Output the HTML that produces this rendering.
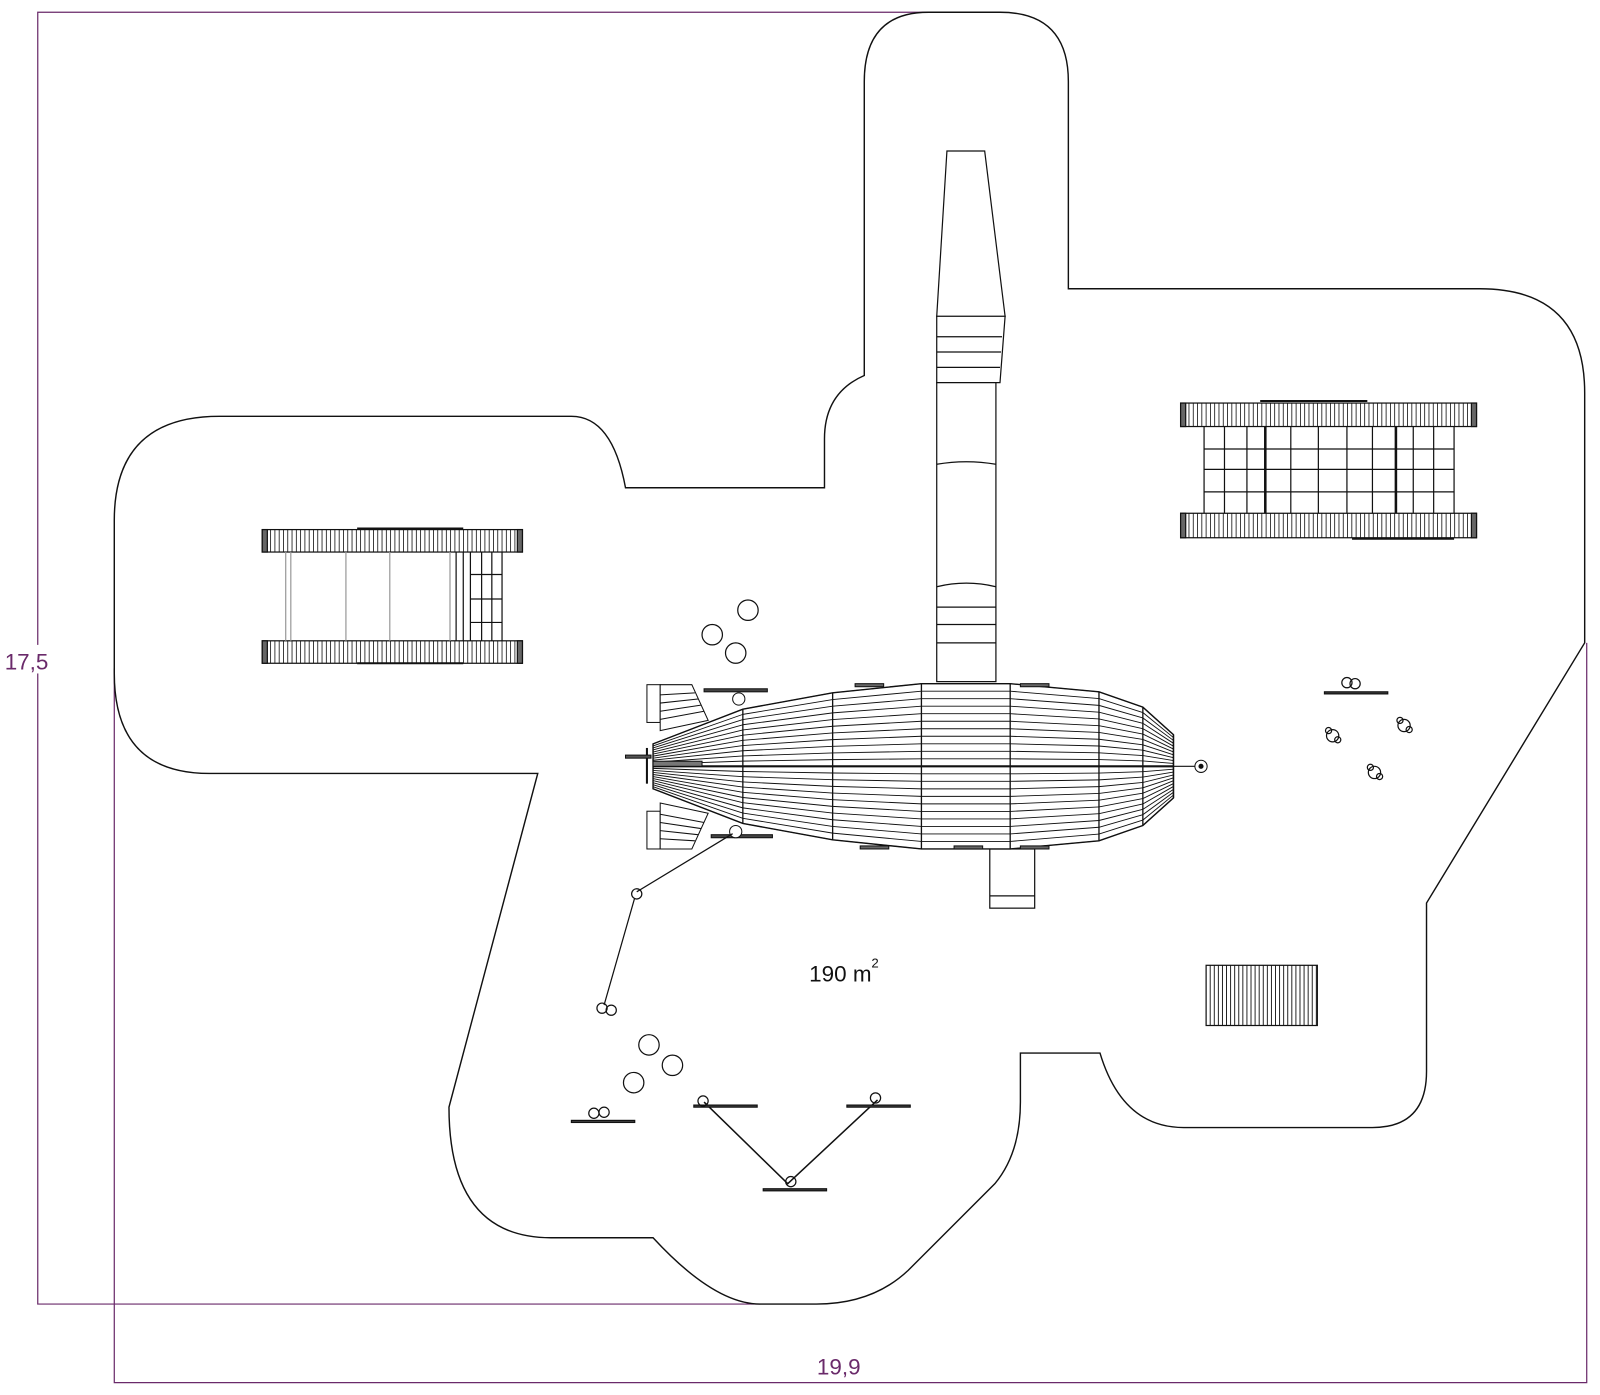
<!DOCTYPE html>
<html><head><meta charset="utf-8"><style>
html,body{margin:0;padding:0;background:#fff;width:1600px;height:1395px;overflow:hidden}
svg{display:block}
text{font-family:"Liberation Sans",sans-serif}
</style></head><body>
<svg id="s" width="1600" height="1395" viewBox="0 0 1600 1395" xmlns="http://www.w3.org/2000/svg">
<g transform="scale(1.0204)">
<g fill="none" stroke="#6a2a6a" stroke-width="1.2">
<path d="M910 12 H37 V1278 H745"/>
<path d="M112 655 V1355 H1555 V630"/>
</g>
<rect x="4" y="632" width="44" height="28" fill="#fff"/>
<text x="26" y="656" font-size="22" fill="#6a2a6a" text-anchor="middle">17,5</text>
<rect x="800" y="1326" width="44" height="28" fill="#fff"/>
<text x="822" y="1347" font-size="22" fill="#6a2a6a" text-anchor="middle">19,9</text>

<path fill="none" stroke="#111" stroke-width="1.4" d="
M910 12 H980 Q1047 12 1047 80 V283 H1450 Q1553 283 1553 385 V630 L1398 885 V1050 Q1398 1105 1345 1105 H1160 Q1100 1105 1078 1032 H1000 V1080 Q1000 1130 975 1160 L890 1245 Q855 1278 800 1278 H745 Q700 1278 640 1213 H540 Q440 1213 440 1085 L527 758 H205 Q112 758 112 660 V510 Q112 408 215 408 H560 Q600 408 613 478 H808 V430 Q808 385 847 368 V80 Q847 12 910 12 Z"/>

<g fill="#fff" stroke="#111" stroke-width="1.2">
<path d="M928 148 H965 L985 310 H918 Z"/>
<path d="M918 310 H985 L980 375 H918 Z"/>
<path d="M918 330 H982 M918 345 H981 M918 360 H980"/>
<rect x="918" y="375" width="58" height="293"/>
<path d="M918 455 Q947 450 976 455 M918 575 Q947 568 976 575 M918 595 H976 M918 612 H976 M918 630 H976"/>
<rect x="970" y="832" width="44" height="58"/>
<path d="M970 878 H1014"/>
</g>

<g id="zep" stroke="#111" stroke-width="1" fill="#fff"></g>

<text x="793" y="962" font-size="22" fill="#111">190 m</text>
<text x="854" y="948" font-size="13" fill="#111">2</text>

<g id="extra" stroke="#111" fill="none" stroke-width="1.2"></g>
</g>
</svg>
<script>
(function(){
const NS="http://www.w3.org/2000/svg";
function el(p,t,a){const e=document.createElementNS(NS,t);for(const k in a)e.setAttribute(k,a[k]);p.appendChild(e);return e;}
const z=document.getElementById('zep'), g2=document.getElementById('extra');
const cy=751;
el(z,'rect',{x:634,y:671,width:13,height:37});el(z,'rect',{x:634,y:795,width:13,height:37});
el(z,'path',{d:"M647 671 H678 L694 706 L647 716 Z"});
el(z,'path',{d:"M647 832 H678 L694 797 L647 787 Z"});
for(let i=1;i<5;i++){el(z,'line',{x1:647,y1:673+i*8,x2:678+i*3,y2:673+i*6});el(z,'line',{x1:647,y1:830-i*8,x2:678+i*3,y2:830-i*6});}
const xs=[640,728,816,903,990,1077,1120,1150], hs=[22,56,72,81,81,73,58,31];
let dTop="",dBot="";
xs.forEach((v,i)=>{dTop+=(i?"L":"M")+v+" "+(cy-hs[i])+" ";});
for(let i=xs.length-1;i>=0;i--)dBot+="L"+xs[i]+" "+(cy+hs[i])+" ";
el(z,'path',{d:dTop+dBot+"Z","stroke-width":1.4});
const n=11;
for(let s=0;s<xs.length-1;s++){
 for(let k=-n;k<=n;k++){
  const f=k/n;
  el(z,'line',{x1:xs[s],y1:cy+f*hs[s],x2:xs[s+1],y2:cy+f*hs[s+1],"stroke-width":0.9});
 }
 el(z,'line',{x1:xs[s+1],y1:cy-hs[s+1],x2:xs[s+1],y2:cy+hs[s+1],"stroke-width":1.3});
}
el(z,'line',{x1:640,y1:cy,x2:1150,y2:cy,"stroke-width":2});
el(z,'line',{x1:1150,y1:cy,x2:1172,y2:cy});
el(z,'circle',{cx:1177,cy:cy,r:6});el(z,'circle',{cx:1177,cy:cy,r:2,fill:"#111"});
el(z,'line',{x1:634,y1:733,x2:634,y2:768,"stroke-width":2});
el(z,'rect',{x:613,y:740,width:25,height:3,fill:"#555"});
el(z,'rect',{x:640,y:746,width:48,height:5,fill:"#777"});
[[690,675,62],[697,818,60]].forEach(a=>el(z,'rect',{x:a[0],y:a[1],width:a[2],height:3,fill:"#444"}));
el(z,'circle',{cx:724,cy:685,r:6});el(z,'circle',{cx:721,cy:815,r:6});
[[838,670],[1000,670],[843,829],[935,829],[1000,829]].forEach(a=>el(z,'rect',{x:a[0],y:a[1],width:28,height:3,fill:"#666"}));

function bar(g,x0,y0,w,h){el(g,'rect',{x:x0,y:y0,width:w,height:h,fill:"#fff"});
 for(let i=x0+4;i<x0+w-3;i+=4.2)el(g,'line',{x1:i,y1:y0,x2:i,y2:y0+h,"stroke-width":0.8});
 el(g,'rect',{x:x0,y:y0,width:5,height:h,fill:"#666"});el(g,'rect',{x:x0+w-5,y:y0,width:5,height:h,fill:"#666"});}
bar(g2,257,519,255,22);bar(g2,257,628,255,22);
el(g2,'line',{x1:350,y1:518,x2:454,y2:518,"stroke-width":2});el(g2,'line',{x1:350,y1:650,x2:454,y2:650,"stroke-width":2});
[280,285,339,382,441].forEach(v=>el(g2,'line',{x1:v,y1:541,x2:v,y2:628,stroke:"#999"}));
[447,454,461,472,482,492].forEach(v=>el(g2,'line',{x1:v,y1:541,x2:v,y2:628}));
[573,597,620].forEach(v=>el(g2,'line',{x1:461,y1:v-10,x2:492,y2:v-10}));
bar(g2,1157,395,290,23);bar(g2,1157,503,290,24);
el(g2,'line',{x1:1235,y1:393,x2:1340,y2:393,"stroke-width":2});el(g2,'line',{x1:1325,y1:528,x2:1425,y2:528,"stroke-width":2});
[1180,1200,1222,1240,1265,1292,1320,1345,1368,1385,1405,1425].forEach(v=>el(g2,'line',{x1:v,y1:418,x2:v,y2:503}));
[440,460,482].forEach(v=>el(g2,'line',{x1:1180,y1:v,x2:1425,y2:v}));
el(g2,'line',{x1:1240,y1:418,x2:1240,y2:503,"stroke-width":2.5});el(g2,'line',{x1:1368,y1:418,x2:1368,y2:503,"stroke-width":2.5});
el(g2,'rect',{x:1182,y:946,width:109,height:59});
for(let i=1186;i<1291;i+=4)el(g2,'line',{x1:i,y1:946,x2:i,y2:1005,"stroke-width":0.9});
[[733,598],[698,622],[721,640],[636,1024],[659,1044],[621,1061]].forEach(a=>el(g2,'ellipse',{cx:a[0],cy:a[1],rx:10,ry:10}));
el(g2,'path',{d:"M718 817 L624 874 M622 880 L592 985"});
el(g2,'circle',{cx:624,cy:876,r:5});el(g2,'circle',{cx:590,cy:988,r:5});el(g2,'circle',{cx:599,cy:990,r:5});
el(g2,'path',{d:"M690 1080 L772 1160 L860 1078","stroke-width":1.5});
[[680,1083],[830,1083],[748,1165],[560,1098],[1298,678]].forEach(a=>el(g2,'rect',{x:a[0],y:a[1],width:62,height:2,fill:"#444"}));
[[689,1079],[858,1076],[775,1158],[582,1091],[592,1090],[1328,670],[1320,669]].forEach(a=>el(g2,'circle',{cx:a[0],cy:a[1],r:5}));
[[1306,721],[1376,711],[1347,757]].forEach(a=>{el(g2,'circle',{cx:a[0],cy:a[1],r:6});el(g2,'circle',{cx:a[0]-4,cy:a[1]-5,r:3});el(g2,'circle',{cx:a[0]+5,cy:a[1]+4,r:3});});
})();
</script>
</body></html>
